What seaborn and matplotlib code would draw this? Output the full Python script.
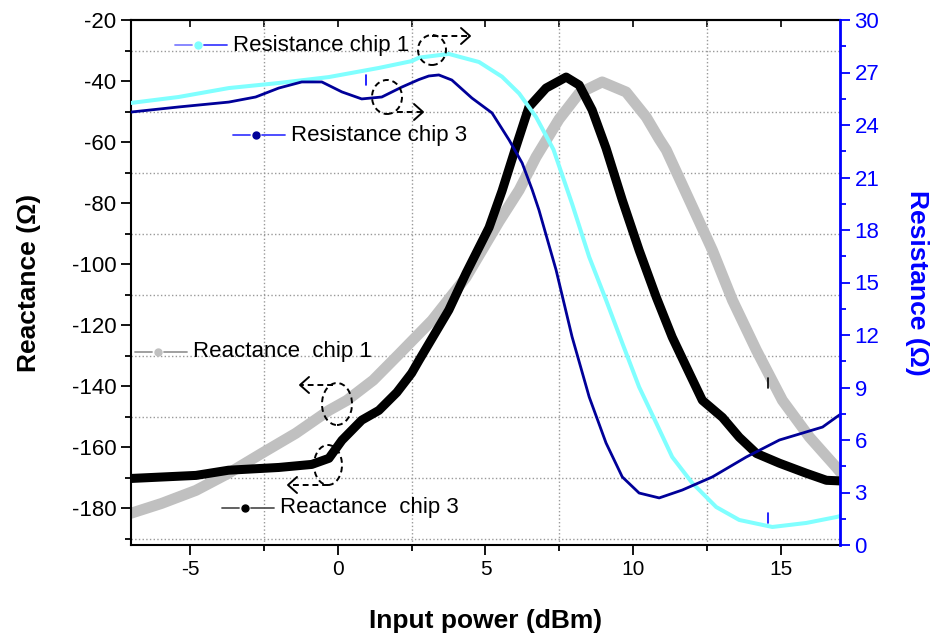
import numpy as np
import pandas as pd
import seaborn as sns
import matplotlib.pyplot as plt
from matplotlib.lines import Line2D
from matplotlib.patches import Ellipse
from matplotlib.ticker import MultipleLocator

# === Veriler ===
x_react1 = [-7, -5.97, -4.8, -3.7, -2.58, -1.42, -0.3, 0.31, 1.2, 2.07, 3.19, 4.34, 5.46,
            6.14, 6.71, 7.49, 8.17, 8.95, 9.76, 10.44, 10.88, 11.12, 11.9, 12.68, 13.36,
            14.17, 15.05, 15.97, 16.88, 17]
y_react1 = [-181.6, -178.4, -174.1, -168.5, -162, -155.4, -147.9, -144.6, -138, -129.5,
            -118.4, -104.3, -86, -75.7, -64.9, -52.5, -44, -40.3, -43.6, -51.8, -59, -62.6,
            -79, -95.4, -111.8, -128.2, -144.6, -156.7, -166.6, -168]

x_react3 = [-7, -4.8, -3.7, -2, -0.88, -0.3, 0.14, 0.81, 1.39, 2.0, 2.5, 2.75, 3.76, 4.34,
            5.12, 5.56, 6.03, 6.47, 7.05, 7.73, 8.17, 8.61, 9.08, 9.63, 10.2, 10.78, 11.32,
            11.9, 12.34, 13.02, 13.59, 14.17, 14.95, 15.86, 16.54, 17]
y_react3 = [-170.2, -169.2, -167.5, -166.6, -165.6, -163.6, -157.7, -151.1, -147.9, -142,
            -135.7, -131.5, -115, -103, -88, -76, -61.6, -48.5, -42.3, -38.7, -41.3, -49.5,
            -62, -79, -95.4, -110.8, -123.9, -135.7, -144.6, -150.2, -156.7, -162, -165.2,
            -168.5, -170.8, -171]

x_res1 = [-7, -5.39, -3.69, -2.0, -0.3, 1.39, 2.5, 2.75, 3.76, 4.78, 5.56, 6.14, 6.71,
          7.3, 7.93, 8.51, 9.08, 9.63, 10.2, 10.78, 11.32, 12, 12.81, 13.59, 14.71, 15.86,
          16.88, 17]
y_res1 = [25.26, 25.6, 26.11, 26.4, 26.74, 27.26, 27.65, 27.85, 28.06, 27.6, 26.76, 25.8,
          24.46, 22.6, 19.5, 16.46, 14, 11.54, 9.03, 6.97, 5.03, 3.54, 2.17, 1.43, 1.03,
          1.26, 1.6, 1.65]

x_res3 = [-7, -5.39, -3.69, -2.78, -2.0, -1.22, -0.54, 0.14, 0.81, 1.49, 2.17, 2.75, 3.08,
          3.42, 3.86, 4.54, 5.22, 5.8, 6.24, 6.58, 6.81, 7.39, 7.93, 8.51, 9.08, 9.63, 10.2,
          10.88, 11.66, 12.68, 13.83, 14.95, 16.41, 16.88, 17]
y_res3 = [24.74, 25.03, 25.31, 25.6, 26.11, 26.46, 26.46, 25.89, 25.49, 25.6, 26.17, 26.6,
          26.8, 26.86, 26.57, 25.54, 24.69, 23.14, 21.83, 20.3, 19.14, 15.71, 11.9, 8.46,
          5.83, 3.89, 2.97, 2.69, 3.14, 3.89, 5.03, 6.0, 6.74, 7.31, 7.45]

# === Stil ===
sns.set_style("ticks")
plt.rcParams['font.family'] = ['Liberation Sans', 'DejaVu Sans']
plt.rcParams['axes.unicode_minus'] = False
plt.rcParams['text.color'] = 'black'
plt.rcParams['axes.labelcolor'] = 'black'
plt.rcParams['xtick.color'] = 'black'
plt.rcParams['ytick.color'] = 'black'

fig = plt.figure(figsize=(9.32, 6.4), dpi=100)
ax = fig.add_axes([131 / 932, 1 - 545 / 640, (840 - 131) / 932, (545 - 20) / 640])
ax2 = ax.twinx()

# === Reaktans (sol eksen) ===
sns.lineplot(x=x_react1, y=y_react1, ax=ax, color="#c0c0c0", lw=7.9,
             solid_joinstyle='round')
sns.lineplot(x=x_react3, y=y_react3, ax=ax, color="black", lw=6.5,
             solid_joinstyle='round')

# === Direnç (sağ eksen) ===
sns.lineplot(x=x_res1, y=y_res1, ax=ax2, color="#80ffff", lw=2.9, solid_joinstyle='round')
sns.lineplot(x=x_res3, y=y_res3, ax=ax2, color="#000099", lw=2.0, solid_joinstyle='round')

ax.set_xlim(-7, 17)
ax.set_ylim(-192, -20)
ax2.set_ylim(0, 30)

ax.xaxis.set_major_locator(MultipleLocator(5))
ax.xaxis.set_minor_locator(MultipleLocator(2.5))
ax.yaxis.set_major_locator(MultipleLocator(20))
ax.yaxis.set_minor_locator(MultipleLocator(10))
ax2.yaxis.set_major_locator(MultipleLocator(3))
ax2.yaxis.set_minor_locator(MultipleLocator(1.5))

ax.grid(False)
ax.grid(which='minor', ls=':', color='#999999', lw=1.0)
ax2.grid(False)

ax.tick_params(which='major', direction='out', length=7, width=1.3, labelsize=16,
               colors='black')
ax.tick_params(which='minor', direction='out', length=4, width=1.3, colors='black')
ax.tick_params(axis='x', labelsize=15)
ax2.tick_params(which='major', direction='out', length=7, width=1.3, colors='blue', labelsize=16)
ax2.tick_params(which='minor', direction='out', length=4, width=1.3, colors='blue')

top = ax.secondary_xaxis('top')
top.xaxis.set_major_locator(MultipleLocator(5))
top.xaxis.set_minor_locator(MultipleLocator(2.5))
top.tick_params(which='both', direction='in', length=5, width=1.2, labeltop=False,
                colors='black')

for s in ['left', 'bottom', 'top']:
    ax.spines[s].set_linewidth(1.5)
    ax.spines[s].set_color('black')
top.spines['top'].set_color('black')
top.spines['top'].set_linewidth(1.5)
ax.spines['right'].set_visible(False)
ax2.spines['right'].set_color('blue')
ax2.spines['right'].set_linewidth(2)
for s in ['left', 'bottom', 'top']:
    ax2.spines[s].set_visible(False)

ax.set_xlabel("Input power (dBm)", fontsize=19, fontweight='bold', labelpad=22)
ax.set_ylabel("Reactance (Ω)", fontsize=19, fontweight='bold', labelpad=22)
ax2.set_ylabel("Resistance (Ω)", fontsize=19, fontweight='bold', color='blue',
               rotation=270, labelpad=36)


# === Açıklamalar (piksel koordinatları) ===
def fp(x, y):
    return x / 932, 1 - y / 640


def sample(x0, y, c1, c2, c3, t):
    a = fp(x0, y)
    b = fp(x0 + 17, y)
    fig.add_artist(Line2D([a[0], b[0]], [a[1], b[1]], color=c1, lw=1.3))
    c = fp(x0 + 29, y)
    d = fp(x0 + 52, y)
    fig.add_artist(Line2D([c[0], d[0]], [c[1], d[1]], color=c3, lw=1.3))
    m = fp(x0 + 23, y)
    fig.add_artist(Line2D([m[0]], [m[1]], marker='o', ms=5, color=c2, lw=0))
    p = fp(x0 + 58, y)
    fig.text(p[0], p[1], t, fontsize=16, va='center', ha='left', color='black')


sample(175, 45, "#7f7fff", "#80ffff", "#3f3fff", "Resistance chip 1")
sample(233, 135, "#3f3fff", "#000099", "#3f3fff", "Resistance chip 3")
sample(135, 352, "#999999", "#c0c0c0", "#999999", "Reactance  chip 1")
sample(222, 508, "#555555", "black", "#555555", "Reactance  chip 3")


def circle_arrow(cx, cy, w, h, ax0, ay, ax1):
    e = Ellipse(fp(cx, cy), w / 932, h / 640, fill=False, ls=(0, (3, 2)),
                lw=1.4, color='black')
    fig.add_artist(e)
    a = fp(ax0, ay)
    b = fp(ax1, ay)
    fig.add_artist(Line2D([a[0], b[0]], [a[1], b[1]], color='black', lw=1.4,
                          ls=(0, (3, 2))))
    s = 1 if ax1 > ax0 else -1
    p1 = fp(ax1 - s * 9, ay - 8)
    p2 = fp(ax1 - s * 9, ay + 8)
    fig.add_artist(Line2D([p1[0], b[0], p2[0]], [p1[1], b[1], p2[1]], color='black', lw=1.4))


circle_arrow(432, 50, 28, 30, 432, 36, 470)
circle_arrow(387, 97, 30, 34, 397, 112, 423)
circle_arrow(337, 404, 30, 42, 333, 385, 300)
circle_arrow(328, 465, 28, 40, 328, 485, 288)

# küçük işaretler
for (xx, yy, cc) in [(366, 80, 'blue'), (768, 383, 'black'), (768, 518, 'blue')]:
    a = fp(xx, yy - 5)
    b = fp(xx, yy + 5)
    fig.add_artist(Line2D([a[0], b[0]], [a[1], b[1]], color=cc, lw=1.2))

plt.savefig("out.png", dpi=100)
